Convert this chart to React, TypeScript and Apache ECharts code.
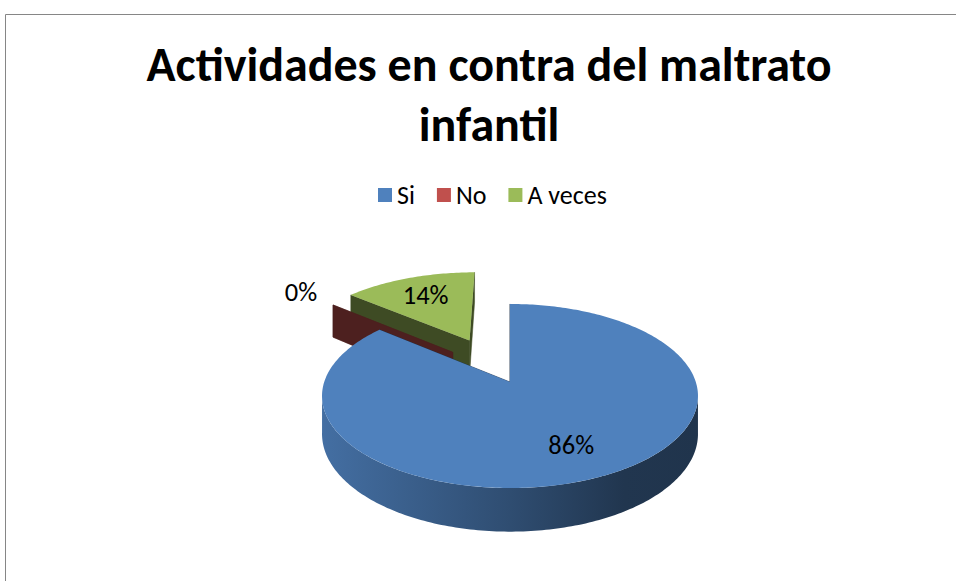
import React, { useEffect, useRef } from "react";
import * as echarts from "echarts";

// ---- data ----
const titleLines = ["Actividades en contra del maltrato", "infantil"];
const categories = ["Si", "No", "A veces"];
const values = [86, 0, 14];
const labels = ["86%", "0%", "14%"];

// ---- styles ----
const palette = ["#4F81BD", "#C0504D", "#9BBB59"];
// explosion of a slice (fraction of the radius) and a small skew of its direction (deg)
const sliceExplode: Record<string, { amount: number; skew: number }> = {
  Si: { amount: 0, skew: 0 },
  No: { amount: 0.476, skew: 7.4 },
  "A veces": { amount: 0.55, skew: 0 },
};

// ---- geometry of the 3D pie (projection) ----
const CX = 510;
const CY = 382;
const RX = 185.8;
const RY = 89.9;
const PERSP = 0.152;
const DEPTH = 37;
const RAD = Math.PI / 180;
const FONT = "Carlito, Calibri, Lato, 'Open Sans', sans-serif";

function proj(u: number, d: number, h: number): number[] {
  const s = 1 / (1 + PERSP * d);
  return [CX + RX * u * s, CY - RY * d * s + DEPTH * h * s];
}

function shade(hex: string, f: number): string {
  const n = parseInt(hex.slice(1), 16);
  const r = Math.round(((n >> 16) & 255) * f);
  const g = Math.round(((n >> 8) & 255) * f);
  const b = Math.round((n & 255) * f);
  return `rgb(${r},${g},${b})`;
}

const total = values.reduce((a, b) => a + b, 0);
const starts = values.map(
  (_, i) => (values.slice(0, i).reduce((a, b) => a + b, 0) / total) * 360
);
const ends = values.map((v, i) => starts[i] + (v / total) * 360);
const mids = values.map((_, i) => ((starts[i] + ends[i]) / 2) * RAD);
// paint far slices first
const drawOrder = values
  .map((_, i) => i)
  .sort((a, b) => Math.cos(mids[b]) - Math.cos(mids[a]));

function renderSlice(params: any) {
  const i = drawOrder[params.dataIndex];
  const a0 = starts[i];
  const a1 = ends[i];
  const m = mids[i];
  const ex = sliceExplode[categories[i]] || { amount: 0, skew: 0 };
  const em = m + ex.skew * RAD;
  const ou = ex.amount * Math.sin(em);
  const od = ex.amount * Math.cos(em);
  const color = palette[i];
  const rim = (deg: number, h: number) =>
    proj(ou + Math.sin(deg * RAD), od + Math.cos(deg * RAD), h);
  const ctr = (h: number) => proj(ou, od, h);
  const arc = (from: number, to: number, h: number) => {
    const pts: number[][] = [];
    const steps = Math.max(1, Math.ceil(Math.abs(to - from)));
    for (let k = 0; k <= steps; k++) pts.push(rim(from + ((to - from) * k) / steps, h));
    return pts;
  };
  const children: any[] = [];
  // outer (curved) wall, front-facing part only
  const vis0 = Math.acos(-PERSP) / RAD - 1;
  const vis1 = 360 - vis0;
  const w0 = Math.max(a0, vis0);
  const w1 = Math.min(a1, vis1);
  if (values[i] > 0 && w1 > w0) {
    const left = proj(-1, -PERSP, 0)[0];
    const right = proj(1, -PERSP, 0)[0];
    children.push({
      type: "polygon",
      shape: { points: [...arc(w0, w1, 0), ...arc(w0, w1, 1).reverse()] },
      style: {
        fill: {
          type: "linear",
          x: left,
          y: 0,
          x2: right,
          y2: 0,
          global: true,
          colorStops: [
            { offset: 0, color: shade(color, 0.86) },
            { offset: 0.5, color: shade(color, 0.6) },
            { offset: 0.8, color: shade(color, 0.42) },
            { offset: 1, color: shade(color, 0.4) },
          ],
        },
      },
    });
  }
  // radial walls
  [a0, a1].forEach((deg) => {
    children.push({
      type: "polygon",
      shape: { points: [ctr(0), rim(deg, 0), rim(deg, 1), ctr(1)] },
      style: { fill: shade(color, 0.4), stroke: shade(color, 0.4), lineWidth: 0.5 },
    });
  });
  // top face
  if (values[i] > 0) {
    children.push({
      type: "polygon",
      shape: { points: [ctr(0), ...arc(a0, a1, 0)] },
      style: { fill: color },
    });
  }
  // label (inside the slice, or just outside it for an empty slice)
  const lr = values[i] > 0 ? 0.7 : 1.3;
  const lp = proj(ou + lr * Math.sin(m), od + lr * Math.cos(m), 0);
  children.push({
    type: "text",
    x: lp[0],
    y: lp[1],
    style: {
      text: labels[i],
      fill: "#000",
      fontSize: 26.5,
      fontFamily: FONT,
      align: "center",
      verticalAlign: "middle",
    },
  });
  return { type: "group", children };
}

export default function App() {
  const ref = useRef<HTMLDivElement>(null);
  useEffect(() => {
    if (!ref.current) return;
    const chart = echarts.init(ref.current, undefined, { renderer: "svg" });
    chart.setOption({
      animation: false,
      backgroundColor: "#fff",
      title: {
        text: titleLines.join("\n"),
        left: 484,
        top: 29,
        textAlign: "center",
        textStyle: {
          fontFamily: FONT,
          fontSize: 48,
          fontWeight: "bold",
          lineHeight: 60,
          color: "#000",
        },
      },
      legend: {
        left: 373,
        top: 177,
        icon: "rect",
        itemWidth: 14,
        itemHeight: 14,
        itemGap: 22,
        selectedMode: false,
        data: categories,
        textStyle: { fontFamily: FONT, fontSize: 26, color: "#000" },
      },
      graphic: [
        {
          type: "rect",
          shape: { x: 5.5, y: 14.5, width: 1200, height: 800 },
          style: { fill: "none", stroke: "#868686", lineWidth: 1 },
          silent: true,
        },
      ],
      series: [
        {
          type: "pie",
          radius: [0, 0],
          center: [CX, CY],
          silent: true,
          label: { show: false },
          labelLine: { show: false },
          data: categories.map((name, i) => ({
            name,
            value: values[i],
            itemStyle: { color: palette[i] },
          })),
        },
        {
          type: "custom",
          coordinateSystem: "none",
          silent: true,
          renderItem: renderSlice,
          data: drawOrder.map((i) => values[i]),
        },
      ],
    });
    return () => chart.dispose();
  }, []);
  return (
    <div
      ref={ref}
      style={{ position: "absolute", left: 0, top: 0, width: 956, height: 581 }}
    />
  );
}
